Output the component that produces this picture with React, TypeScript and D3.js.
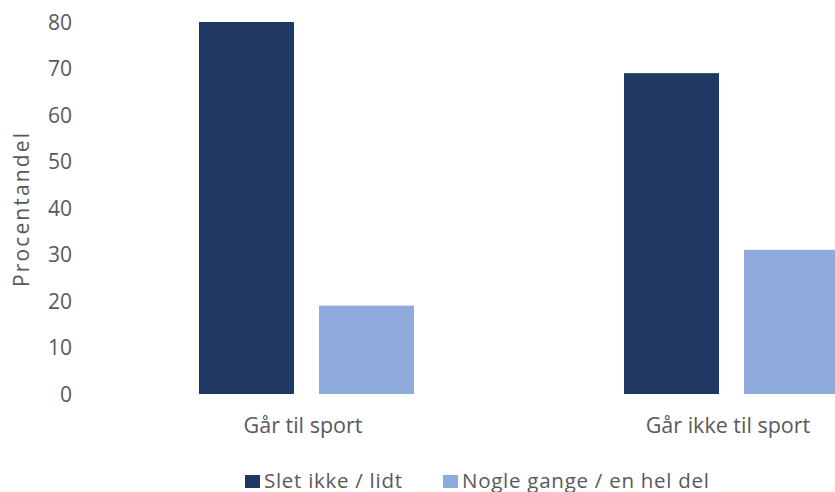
import React from 'react';
import * as d3 from 'd3';

const categories = ['Går til sport', 'Går ikke til sport'];
const seriesNames = ['Slet ikke / lidt', 'Nogle gange / en hel del'];
const slet = [80, 69];
const nogle = [19, 31];
const yTicks = [0, 10, 20, 30, 40, 50, 60, 70, 80];

const COLORS = ['#203864', '#8faadc'];
const TEXT = '#595959';
const FONT = '"Open Sans", sans-serif';

const W = 835;
const H = 492;

// legend text widths (Calibri is narrower/wider per glyph)
const legendWidths = [138, 247];
const legendX = [245, 443];

export default function App() {
  const values = [slet, nogle];

  const x0 = d3.scaleBand<string>().domain(categories).range([94, 944]).padding(0);
  const x1 = d3
    .scaleBand<string>()
    .domain(seriesNames)
    .range([105, 320])
    .paddingInner(25 / 120)
    .paddingOuter(0);
  const y = d3.scaleLinear().domain([0, 80]).range([394, 22]);

  return (
    <svg
      width={W}
      height={H}
      style={{ position: 'absolute', left: 0, top: 0, background: '#fff' }}
      fontFamily={FONT}
    >
      {/* y tick labels */}
      {yTicks.map((t) => (
        <text
          key={t}
          x={72}
          y={y(t)}
          dy="0.36em"
          textAnchor="end"
          fontSize={21}
          fill={TEXT}
        >
          {t}
        </text>
      ))}

      {/* axis title */}
      <text
        transform={`translate(29, 210) rotate(-90)`}
        textAnchor="middle"
        fontSize={21}
        fill={TEXT}
        textLength={154}
        lengthAdjust="spacing"
      >
        Procentandel
      </text>

      {/* bars */}
      {categories.map((c, ci) => (
        <g key={c} transform={`translate(${x0(c)},0)`}>
          {seriesNames.map((s, si) => (
            <rect
              key={s}
              x={x1(s)}
              y={y(values[si][ci])}
              width={x1.bandwidth()}
              height={y(0) - y(values[si][ci])}
              fill={COLORS[si]}
            />
          ))}
        </g>
      ))}

      {/* category labels */}
      {categories.map((c) => (
        <text
          key={c}
          x={(x0(c) ?? 0) + x0.bandwidth() / 2 - 3.5}
          y={433}
          textAnchor="middle"
          fontSize={21.5}
          fill={TEXT}
        >
          {c}
        </text>
      ))}

      {/* legend */}
      {seriesNames.map((s, i) => {
        const lx = legendX[i];
        return (
          <g key={s}>
            <rect x={lx} y={475} width={15} height={13} fill={COLORS[i]} />
            <text
              x={lx + 19}
              y={488}
              fontSize={20.5}
              fill={TEXT}
              textLength={legendWidths[i]}
              lengthAdjust="spacing"
            >
              {s}
            </text>
          </g>
        );
      })}
    </svg>
  );
}
